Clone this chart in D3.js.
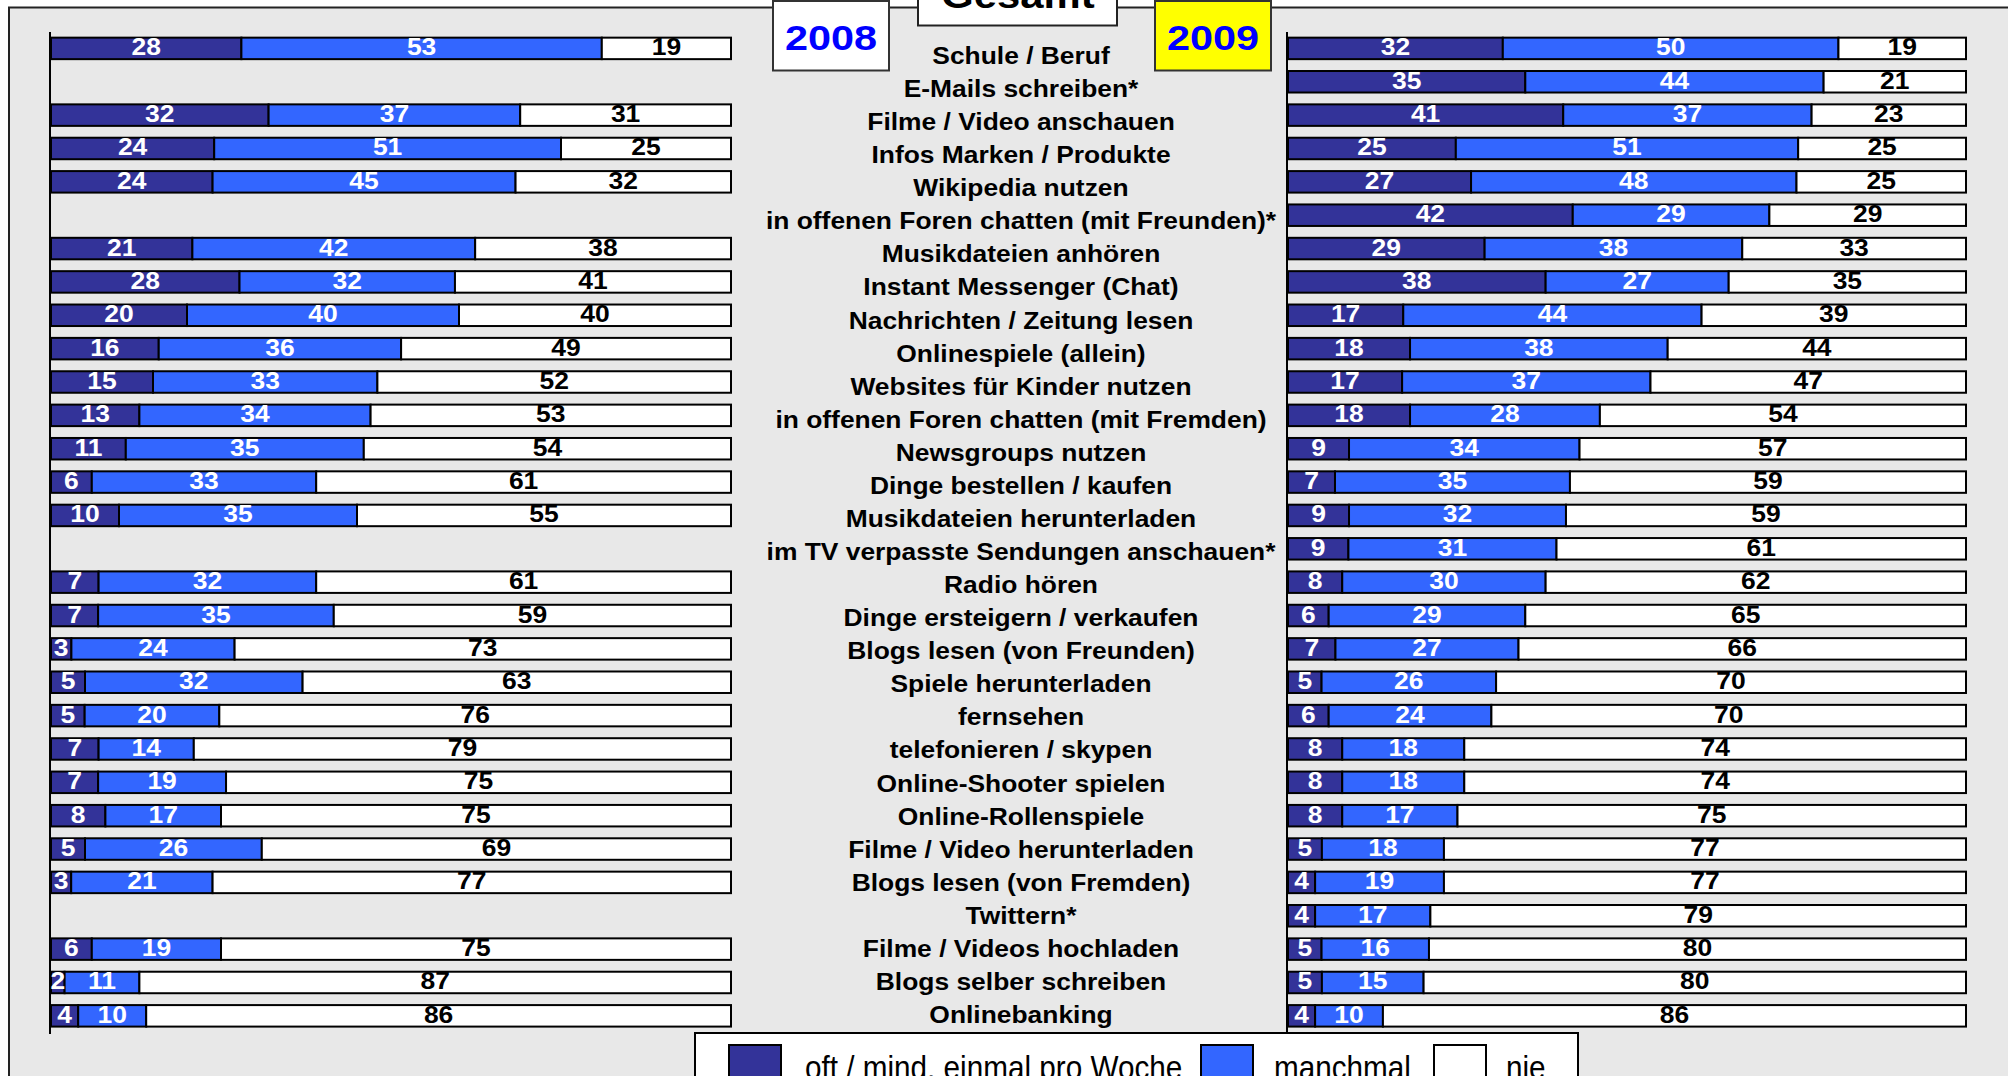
<!DOCTYPE html>
<html><head><meta charset="utf-8">
<script src="https://cdn.jsdelivr.net/npm/d3@7"></script>
<style>
html,body{margin:0;padding:0;background:#fff;overflow:hidden}
svg{display:block}
text{font-family:"Liberation Sans",Arial,Helvetica,sans-serif}
</style></head>
<body>
<svg id="c" width="2008" height="1076"></svg>
<script>
const categories = [
 "Schule / Beruf","E-Mails schreiben*","Filme / Video anschauen","Infos Marken / Produkte","Wikipedia nutzen",
 "in offenen Foren chatten (mit Freunden)*","Musikdateien anhören","Instant Messenger (Chat)","Nachrichten / Zeitung lesen",
 "Onlinespiele (allein)","Websites für Kinder nutzen","in offenen Foren chatten (mit Fremden)","Newsgroups nutzen",
 "Dinge bestellen / kaufen","Musikdateien herunterladen","im TV verpasste Sendungen anschauen*","Radio hören",
 "Dinge ersteigern / verkaufen","Blogs lesen (von Freunden)","Spiele herunterladen","fernsehen","telefonieren / skypen",
 "Online-Shooter spielen","Online-Rollenspiele","Filme / Video herunterladen","Blogs lesen (von Fremden)","Twittern*",
 "Filme / Videos hochladen","Blogs selber schreiben","Onlinebanking"];
const seriesNames = ["oft / mind. einmal pro Woche","manchmal","nie"];
// 2008 values (null = not asked in 2008)
const oft2008      = [28,null,32,24,24,null,21,28,20,16,15,13,11,6,10,null,7,7,3,5,5,7,7,8,5,3,null,6,2,4];
const manchmal2008 = [53,null,37,51,45,null,42,32,40,36,33,34,35,33,35,null,32,35,24,32,20,14,19,17,26,21,null,19,11,10];
const nie2008      = [19,null,31,25,32,null,38,41,40,49,52,53,54,61,55,null,61,59,73,63,76,79,75,75,69,77,null,75,87,86];
// 2009 values
const oft2009      = [32,35,41,25,27,42,29,38,17,18,17,18,9,7,9,9,8,6,7,5,6,8,8,8,5,4,4,5,5,4];
const manchmal2009 = [50,44,37,51,48,29,38,27,44,38,37,28,34,35,32,31,30,29,27,26,24,18,18,17,18,19,17,16,15,10];
const nie2009      = [19,21,23,25,25,29,33,35,39,44,47,54,57,59,59,61,62,65,66,70,70,74,74,75,77,77,79,80,80,86];
const years = ["2008","2009"];
const headerTitle = "Gesamt";

const colors = ["#333399","#3366FF","#FFFFFF"];
const textColors = ["#FFFFFF","#FFFFFF","#000000"];

const svg = d3.select("#c");
const FONT = '"Liberation Sans",Arial,Helvetica,sans-serif';

// panel
svg.append("rect").attr("x",9).attr("y",7.5).attr("width",2020).attr("height",1100)
  .attr("fill","#E8E8E8").attr("stroke","#222").attr("stroke-width",2);

const yBar = d3.scalePoint().domain(categories).range([48.4, 48.4 + 29*33.36]);
const yLab = d3.scalePoint().domain(categories).range([64, 1023]);
const barH = 21.5;

function buildRows(o,m,n){
  return categories.map((c,i)=>({cat:c, vals:[o[i],m[i],n[i]]})).filter(r=>r.vals[0]!==null);
}
const panels = [
  {rows: buildRows(oft2008,manchmal2008,nie2008), x0:51, x1:731},
  {rows: buildRows(oft2009,manchmal2009,nie2009), x0:1288, x1:1966}
];

panels.forEach(p=>{
  const g = svg.append("g");
  // axis line
  g.append("line").attr("x1",p.x0-1).attr("x2",p.x0-1).attr("y1",32).attr("y2",1034)
    .attr("stroke","#000").attr("stroke-width",2);
  const x = d3.scaleLinear().domain([0,1]).range([p.x0,p.x1]);
  p.rows.forEach(r=>{
    const tot = d3.sum(r.vals);
    let cum = 0;
    const segs = r.vals.map((v,k)=>{const s={k,v,a:cum/tot,b:(cum+v)/tot}; cum+=v; return s;});
    const cy = yBar(r.cat);
    const rg = g.append("g");
    rg.selectAll("rect").data(segs).join("rect")
      .attr("x",d=>x(d.a)).attr("width",d=>x(d.b)-x(d.a))
      .attr("y",cy-barH/2).attr("height",barH)
      .attr("fill",d=>colors[d.k]).attr("stroke","#000").attr("stroke-width",2);
    rg.selectAll("text").data(segs).join("text")
      .attr("transform",d=>`translate(${(x(d.a)+x(d.b))/2},${cy+7}) scale(1.15,1)`)
      .attr("text-anchor","middle").attr("font-weight","bold").attr("font-size",23)
      .attr("fill",d=>textColors[d.k]).text(d=>d.v);
  });
});

// category labels
svg.append("g").selectAll("text").data(categories).join("text")
  .attr("transform",d=>`translate(1021,${yLab(d)}) scale(1.1,1)`)
  .attr("text-anchor","middle").attr("font-weight","bold").attr("font-size",24)
  .attr("fill","#000").text(d=>d);

// header boxes
const gh = svg.append("g");
gh.append("rect").attr("x",918).attr("y",-10).attr("width",199).attr("height",35.5)
  .attr("fill","#fff").attr("stroke","#222").attr("stroke-width",2);
gh.append("text").attr("transform","translate(1018,8) scale(1.13,1)").attr("text-anchor","middle")
  .attr("font-weight","bold").attr("font-size",37).attr("fill","#000").text(headerTitle);

const yearBoxes = [{x:773, fill:"#FFFFFF"},{x:1155, fill:"#FFFF00"}];
years.forEach((yr,i)=>{
  const b = yearBoxes[i];
  gh.append("rect").attr("x",b.x).attr("y",1).attr("width",116).attr("height",69.5)
    .attr("fill",b.fill).attr("stroke","#333").attr("stroke-width",2);
  gh.append("text").attr("transform",`translate(${b.x+58},49.5) scale(1.15,1)`).attr("text-anchor","middle")
    .attr("font-weight","bold").attr("font-size",36).attr("fill","#0000FF").text(yr);
});

// legend
const lg = svg.append("g");
lg.append("rect").attr("x",695).attr("y",1033).attr("width",883).attr("height",80)
  .attr("fill","#fff").attr("stroke","#000").attr("stroke-width",2);
const legItems = [
  {sx:729, tx:805},{sx:1201, tx:1274},{sx:1434, tx:1506}
];
seriesNames.forEach((nm,i)=>{
  const it = legItems[i];
  lg.append("rect").attr("x",it.sx).attr("y",1045).attr("width",52).attr("height",40)
    .attr("fill",colors[i]).attr("stroke","#000").attr("stroke-width",2);
  lg.append("text").attr("transform",`translate(${it.tx},1079) scale(0.9,1)`)
    .attr("font-size",33).attr("fill","#000").text(nm);
});
</script>
</body></html>
